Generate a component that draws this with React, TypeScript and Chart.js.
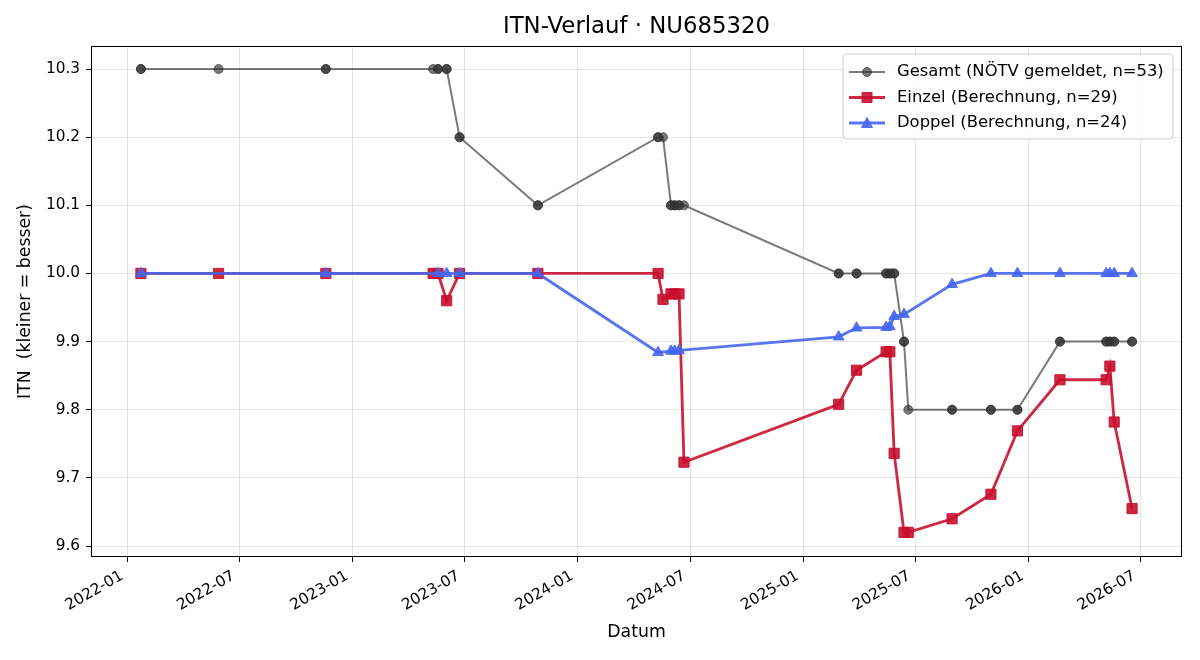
import React, { useEffect, useRef } from "react";
import { Chart, registerables } from "chart.js";

Chart.register(...registerables);

// ---------- data ----------
const einzelDates = [
  "2022-01-22", "2022-05-28", "2022-11-18", "2023-05-11", "2023-05-19", "2023-06-02",
  "2023-06-23", "2023-10-28", "2024-05-10", "2024-05-18", "2024-05-31", "2024-06-06",
  "2024-06-13", "2024-06-21", "2025-02-27", "2025-03-28", "2025-05-15", "2025-05-21",
  "2025-05-28", "2025-06-13", "2025-06-20", "2025-08-30", "2025-11-01", "2025-12-14",
  "2026-02-21", "2026-05-07", "2026-05-13", "2026-05-20", "2026-06-18",
];
const einzelValues = [
  10.0, 10.0, 10.0, 10.0, 10.0, 9.96,
  10.0, 10.0, 10.0, 9.962, 9.97, 9.97,
  9.97, 9.723, 9.808, 9.858, 9.885, 9.885,
  9.736, 9.62, 9.62, 9.64, 9.676, 9.769,
  9.844, 9.844, 9.864, 9.782, 9.655,
];

const doppelDates = [
  "2022-01-22", "2022-11-18", "2023-05-19", "2023-06-02", "2023-06-23", "2023-10-28",
  "2024-05-10", "2024-05-31", "2024-06-06", "2024-06-13", "2025-02-27", "2025-03-28",
  "2025-05-15", "2025-05-21", "2025-05-28", "2025-06-13", "2025-08-30", "2025-11-01",
  "2025-12-14", "2026-02-21", "2026-05-07", "2026-05-13", "2026-05-20", "2026-06-18",
];
const doppelValues = [
  10.0, 10.0, 10.0, 10.0, 10.0, 10.0,
  9.884, 9.886, 9.886, 9.887, 9.907, 9.92,
  9.921, 9.922, 9.937, 9.94, 9.984, 10.0,
  10.0, 10.0, 10.0, 10.0, 10.0, 10.0,
];

const gesamtDates = [
  "2022-01-22", "2022-01-22", "2022-05-28", "2022-11-18", "2022-11-18", "2023-05-11",
  "2023-05-19", "2023-05-19", "2023-06-02", "2023-06-02", "2023-06-23", "2023-06-23",
  "2023-10-28", "2023-10-28", "2024-05-10", "2024-05-10", "2024-05-18", "2024-05-31",
  "2024-05-31", "2024-06-06", "2024-06-06", "2024-06-13", "2024-06-13", "2024-06-21",
  "2025-02-27", "2025-02-27", "2025-03-28", "2025-03-28", "2025-05-15", "2025-05-15",
  "2025-05-21", "2025-05-21", "2025-05-28", "2025-05-28", "2025-06-13", "2025-06-13",
  "2025-06-20", "2025-08-30", "2025-08-30", "2025-11-01", "2025-11-01", "2025-12-14",
  "2025-12-14", "2026-02-21", "2026-02-21", "2026-05-07", "2026-05-07", "2026-05-13",
  "2026-05-13", "2026-05-20", "2026-05-20", "2026-06-18", "2026-06-18",
];
const gesamtValues = [
  10.3, 10.3, 10.3, 10.3, 10.3, 10.3,
  10.3, 10.3, 10.3, 10.3, 10.2, 10.2,
  10.1, 10.1, 10.2, 10.2, 10.2, 10.1,
  10.1, 10.1, 10.1, 10.1, 10.1, 10.1,
  10.0, 10.0, 10.0, 10.0, 10.0, 10.0,
  10.0, 10.0, 10.0, 10.0, 9.9, 9.9,
  9.8, 9.8, 9.8, 9.8, 9.8, 9.8,
  9.8, 9.9, 9.9, 9.9, 9.9, 9.9,
  9.9, 9.9, 9.9, 9.9, 9.9,
];

const xTickDates = [
  "2022-01-01", "2022-07-01", "2023-01-01", "2023-07-01", "2024-01-01",
  "2024-07-01", "2025-01-01", "2025-07-01", "2026-01-01", "2026-07-01",
];
const yTickValues = [9.6, 9.7, 9.8, 9.9, 10.0, 10.1, 10.2, 10.3];

const X_MIN = "2021-11-02";
const X_MAX = "2026-09-07";
const Y_MIN = 9.5839;
const Y_MAX = 10.3338;

const TITLE = "ITN-Verlauf · NU685320";
const X_LABEL = "Datum";
const Y_LABEL = "ITN  (kleiner = besser)";
const LABEL_GESAMT = "Gesamt (NÖTV gemeldet, n=53)";
const LABEL_EINZEL = "Einzel (Berechnung, n=29)";
const LABEL_DOPPEL = "Doppel (Berechnung, n=24)";

// ---------- styles ----------
const FONT = '"DejaVu Sans", "Liberation Sans", sans-serif';
const TICK_SIZE = 15.3;
const GRAY = "rgba(51,51,51,0.65)";
const RED = "rgba(200,16,46,0.9)";
const BLUE = "rgba(69,102,238,0.9)";

const ts = (d: string) => Date.parse(d + "T00:00:00Z");
const pts = (dates: string[], vals: number[]) => dates.map((d, i) => ({ x: ts(d), y: vals[i] }));
const fmtMonth = (v: number) => {
  const d = new Date(v);
  const m = d.getUTCMonth() + 1;
  return `${d.getUTCFullYear()}-${m < 10 ? "0" + m : m}`;
};

function drawMarker(ctx: CanvasRenderingContext2D, style: string, x: number, y: number, color: string) {
  ctx.fillStyle = color;
  ctx.strokeStyle = color;
  ctx.lineWidth = 1;
  ctx.beginPath();
  if (style === "circle") {
    ctx.arc(x, y, 4.5, 0, Math.PI * 2);
  } else if (style === "rect") {
    ctx.rect(x - 5, y - 5, 10, 10);
  } else {
    ctx.moveTo(x, y - 5.5);
    ctx.lineTo(x + 5.5, y + 4.5);
    ctx.lineTo(x - 5.5, y + 4.5);
    ctx.closePath();
  }
  ctx.fill();
  ctx.stroke();
}

const decorPlugin = {
  id: "decor",
  afterDraw(chart: any) {
    const { ctx, chartArea: a } = chart;
    const xScale = chart.scales.x;
    ctx.save();
    // frame
    ctx.strokeStyle = "#000";
    ctx.lineWidth = 1;
    ctx.strokeRect(a.left + 0.5, a.top + 0.5, a.right - a.left - 1, a.bottom - a.top - 1);

    // x tick labels (rotated 30°, right-aligned like matplotlib)
    ctx.fillStyle = "#000";
    ctx.font = `${TICK_SIZE}px ${FONT}`;
    ctx.textAlign = "right";
    ctx.textBaseline = "alphabetic";
    const H = TICK_SIZE * 1.16;
    const asc = TICK_SIZE * 0.93;
    xTickDates.forEach((d) => {
      const v = ts(d);
      const px = xScale.getPixelForValue(v);
      ctx.save();
      ctx.translate(px - 0.5 * H - 2, a.bottom + 9);
      ctx.rotate(-Math.PI / 6);
      ctx.fillText(fmtMonth(v), 0, asc);
      ctx.restore();
    });

    // title
    ctx.fillStyle = "#000";
    ctx.textAlign = "center";
    ctx.textBaseline = "middle";
    ctx.font = `22.8px ${FONT}`;
    ctx.fillText(TITLE, (a.left + a.right) / 2, 27);

    // axis labels
    ctx.font = `17.3px ${FONT}`;
    ctx.fillText(X_LABEL, (a.left + a.right) / 2, 633);
    ctx.save();
    ctx.translate(26, (a.top + a.bottom) / 2);
    ctx.rotate(-Math.PI / 2);
    ctx.fillText(Y_LABEL, 0, 0);
    ctx.restore();

    // legend
    const lx = 843, ly = 54, lw = 330, lh = 85, r = 4;
    ctx.beginPath();
    ctx.moveTo(lx + r, ly);
    ctx.lineTo(lx + lw - r, ly);
    ctx.quadraticCurveTo(lx + lw, ly, lx + lw, ly + r);
    ctx.lineTo(lx + lw, ly + lh - r);
    ctx.quadraticCurveTo(lx + lw, ly + lh, lx + lw - r, ly + lh);
    ctx.lineTo(lx + r, ly + lh);
    ctx.quadraticCurveTo(lx, ly + lh, lx, ly + lh - r);
    ctx.lineTo(lx, ly + r);
    ctx.quadraticCurveTo(lx, ly, lx + r, ly);
    ctx.closePath();
    ctx.fillStyle = "rgba(255,255,255,0.8)";
    ctx.fill();
    ctx.strokeStyle = "#cccccc";
    ctx.lineWidth = 1;
    ctx.stroke();

    const rows = [
      { label: LABEL_GESAMT, color: GRAY, style: "circle", lw: 2 },
      { label: LABEL_EINZEL, color: RED, style: "rect", lw: 2.8 },
      { label: LABEL_DOPPEL, color: BLUE, style: "triangle", lw: 2.8 },
    ];
    rows.forEach((row, i) => {
      const y = 72 + i * 25.5;
      ctx.strokeStyle = row.color;
      ctx.lineWidth = row.lw;
      ctx.beginPath();
      ctx.moveTo(849, y);
      ctx.lineTo(885, y);
      ctx.stroke();
      drawMarker(ctx, row.style, 867, y, row.color);
      ctx.fillStyle = "#000";
      ctx.textAlign = "left";
      ctx.textBaseline = "middle";
      ctx.font = `16.4px ${FONT}`;
      ctx.fillText(row.label, 897, y);
    });
    ctx.restore();
  },
};

export default function App() {
  const ref = useRef<HTMLCanvasElement>(null);
  useEffect(() => {
    document.body.style.margin = "0";
    Chart.defaults.font.family = FONT;
    const chart = new Chart(ref.current as HTMLCanvasElement, {
      type: "line",
      data: {
        datasets: [
          {
            label: LABEL_GESAMT,
            data: pts(gesamtDates, gesamtValues),
            borderColor: GRAY,
            backgroundColor: GRAY,
            borderWidth: 2,
            pointStyle: "circle",
            pointRadius: 4.5,
            pointBorderWidth: 1,
            pointBackgroundColor: GRAY,
            pointBorderColor: GRAY,
            tension: 0,
            order: 3,
          },
          {
            label: LABEL_EINZEL,
            data: pts(einzelDates, einzelValues),
            borderColor: RED,
            backgroundColor: RED,
            borderWidth: 2.8,
            pointStyle: "rect",
            pointRadius: 7.2,
            pointBorderWidth: 1,
            pointBackgroundColor: RED,
            pointBorderColor: RED,
            tension: 0,
            order: 2,
          },
          {
            label: LABEL_DOPPEL,
            data: pts(doppelDates, doppelValues),
            borderColor: BLUE,
            backgroundColor: BLUE,
            borderWidth: 2.8,
            pointStyle: "triangle",
            pointRadius: 6.2,
            pointBorderWidth: 1,
            pointBackgroundColor: BLUE,
            pointBorderColor: BLUE,
            tension: 0,
            order: 1,
          },
        ],
      },
      options: {
        responsive: false,
        animation: false,
        devicePixelRatio: 1,
        layout: { padding: { top: 46, right: 18, left: 0, bottom: 0 } },
        plugins: {
          legend: { display: false },
          tooltip: { enabled: false },
          title: { display: false },
        },
        scales: {
          x: {
            type: "linear",
            min: ts(X_MIN),
            max: ts(X_MAX),
            afterBuildTicks: (scale: any) => {
              scale.ticks = xTickDates.map((d) => ({ value: ts(d) }));
            },
            afterFit: (scale: any) => {
              scale.height = 103;
            },
            ticks: {
              autoSkip: false,
              maxRotation: 30,
              minRotation: 30,
              padding: 3,
              color: "rgba(0,0,0,0)",
              font: { family: FONT, size: TICK_SIZE },
              callback: (v: any) => fmtMonth(Number(v)),
            },
            grid: {
              color: "rgba(0,0,0,0.1)",
              lineWidth: 1,
              drawTicks: true,
              tickLength: 5,
              tickColor: "#000",
              tickWidth: 1,
            },
            border: { display: false },
          },
          y: {
            type: "linear",
            min: Y_MIN,
            max: Y_MAX,
            afterBuildTicks: (scale: any) => {
              scale.ticks = yTickValues.map((v) => ({ value: v }));
            },
            afterFit: (scale: any) => {
              scale.width = 91;
            },
            ticks: {
              padding: 6,
              color: "#000",
              font: { family: FONT, size: TICK_SIZE },
              callback: (v: any) => Number(v).toFixed(1),
            },
            grid: {
              color: "rgba(0,0,0,0.1)",
              lineWidth: 1,
              drawTicks: true,
              tickLength: 5,
              tickColor: "#000",
              tickWidth: 1,
            },
            border: { display: false },
          },
        },
      },
      plugins: [decorPlugin],
    } as any);
    return () => chart.destroy();
  }, []);
  return (
    <canvas
      ref={ref}
      width={1200}
      height={660}
      style={{ display: "block", width: 1200, height: 660 }}
    />
  );
}
